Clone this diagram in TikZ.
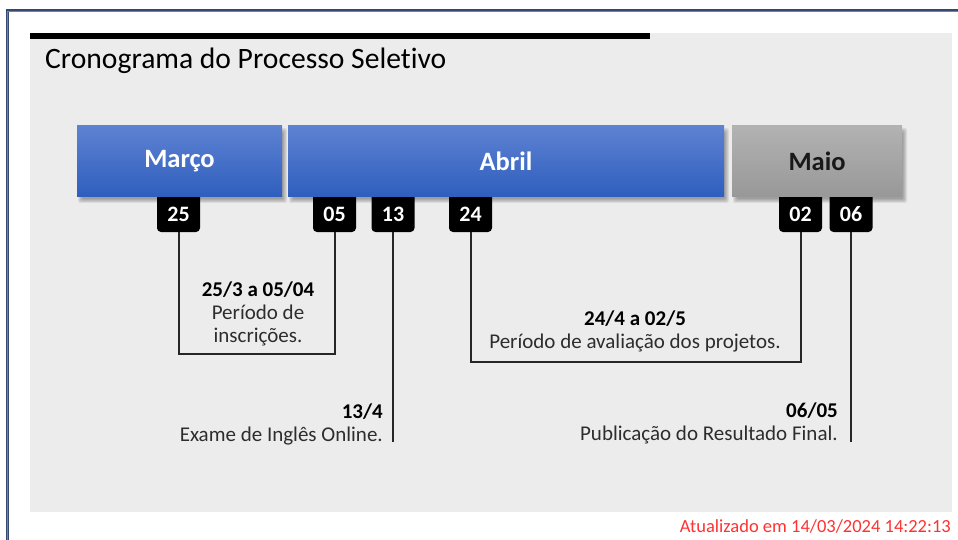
\documentclass[tikz,border=0pt]{standalone}
\usepackage{fontspec}
\setmainfont{Carlito}[Ligatures=NoCommon]
\definecolor{framec}{RGB}{52,73,112}
\definecolor{framel}{RGB}{110,130,170}
\definecolor{panel}{RGB}{236,236,236}
\definecolor{bluetop}{RGB}{94,130,210}
\definecolor{bluebot}{RGB}{46,94,190}
\definecolor{graytop}{RGB}{178,178,178}
\definecolor{graybot}{RGB}{152,152,152}
\definecolor{desc}{RGB}{45,45,45}
\definecolor{stamp}{RGB}{255,50,50}
\begin{document}
\begin{tikzpicture}[x=1pt,y=-1pt,
  month/.style={minimum height=71pt, inner sep=0pt, font=\bfseries\fontsize{26.5}{26.5}\selectfont},
  bluebar/.style={month, top color=bluetop, bottom color=bluebot, text=white},
  graybar/.style={month, top color=graytop, bottom color=graybot, text=black!90},
  tag/.style={fill=black, text=white, rounded corners=4pt, minimum width=43pt, minimum height=42pt,
     inner sep=0pt, text height=20.8pt, text depth=0pt, font=\bfseries\fontsize{22}{22}\selectfont},
  conn/.style={draw=black!85, line width=2pt},
  desctext/.style={inner sep=0pt, text=desc, font=\fontsize{21}{23}\selectfont},
  softshadow/.style={fill=black, opacity=0.075}
]
\useasboundingbox (0,0) rectangle (958,540);
\fill[white] (0,0) rectangle (958,540);
% frame
\draw[framec, line width=3pt] (7.5,540) -- (7.5,11) -- (958,11);
\draw[framel, line width=0.8pt] (7.5,540) -- (7.5,11) -- (958,11);
% panel
\fill[panel] (30,33) rectangle (952,512);
\fill[black] (30,33) rectangle (650,39);
\node[anchor=base west, inner sep=0pt, font=\fontsize{29.6}{29.6}\selectfont] (title) at (45,69) {Cronograma do Processo Seletivo};
% tags (tops hidden under the bars)
\node[tag] (t25) at (178.5,211) {25};
\node[tag] (t05) at (334.5,211) {05};
\node[tag] (t13) at (393,211) {13};
\node[tag] (t24) at (470.5,211) {24};
\node[tag] (t02) at (800.5,211) {02};
\node[tag] (t06) at (851,211) {06};
% soft shadows of the bars
\foreach \xa/\xb in {77/282, 288/724, 732/902}{
  \foreach \e in {-2,...,2}{
    \fill[softshadow, rounded corners=2pt] (\xa+3-\e,126+4-\e) rectangle (\xb+3+\e,197+4+\e);
  }
}
% month bars
\node[bluebar, minimum width=205pt] (marco) at (179.5,161.5) {Março};
\node[bluebar, minimum width=436pt] (abril) at (506,161.5) {Abril};
\node[graybar, minimum width=170pt] (maio) at (817,161.5) {Maio};
% connectors
\coordinate (b1) at (258,354);
\coordinate (b2) at (636,362);
\coordinate (e13) at (392,442);
\coordinate (e06) at (850,442);
\draw[conn] (t25.south) |- (b1) -| (t05.south);
\draw[conn] (t24.south) |- (b2) -| (t02.south);
\draw[conn] (t13.south) -- (t13.south |- e13);
\draw[conn] (t06.south) -- (t06.south |- e06);
% texts
\node[desctext, align=center] (d1) at (258,314) {\textbf{\color{black}25/3 a 05/04}\\Período de\\inscrições.};
\node[desctext, align=center] (d2) at (635,331.5) {\textbf{\color{black}24/4 a 02/5}\\Período de avaliação dos projetos.};
\node[desctext, align=right, anchor=east] (d3) at (383,424) {\textbf{\color{black}13/4}\\Exame de Inglês Online.};
\node[desctext, align=right, anchor=east] (d4) at (838,423) {\textbf{\color{black}06/05}\\Publicação do Resultado Final.};
\node[anchor=base east, inner sep=0pt, text=stamp, font=\fontsize{18.5}{18.5}\selectfont] (stamp) at (951,532) {Atualizado em 14/03/2024 14:22:13};
\end{tikzpicture}
\end{document}
